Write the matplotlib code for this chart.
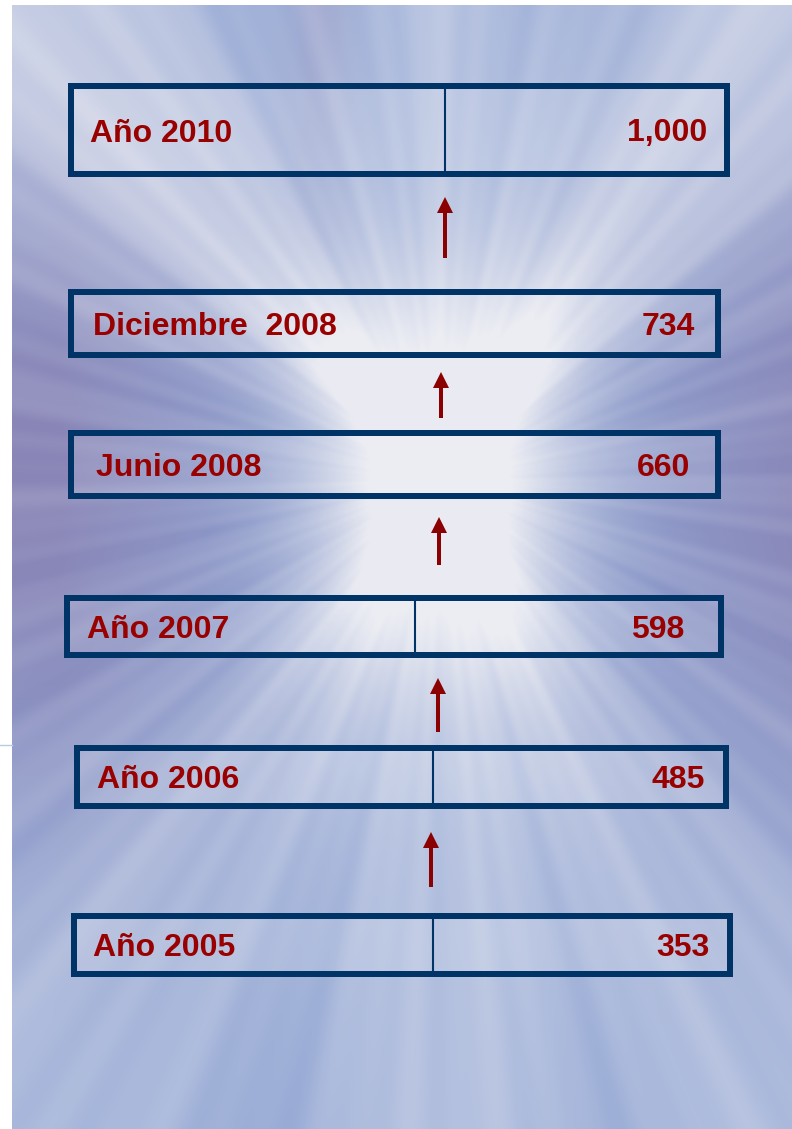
import numpy as np
import matplotlib
matplotlib.use("Agg")
import matplotlib.pyplot as plt
from matplotlib.patches import Rectangle, FancyArrow

# data, top to bottom
periods = ["Año 2010", "Diciembre  2008", "Junio 2008", "Año 2007", "Año 2006", "Año 2005"]
values = [1000, 734, 660, 598, 485, 353]

# layout in pixels (outer edges of each frame)
box_left = [68, 68, 68, 64, 74, 71]
box_right = [730, 721, 721, 724, 729, 733]
box_top = [83, 289, 430, 595, 745, 913]
box_bottom = [177, 358, 499, 658, 809, 977]
divider_x = [445, None, None, 415, 433, 433]
label_x = [90, 93, 96, 87, 97, 93]
value_right = [707, 695, 690, 684, 705, 710]

# arrows between frames: x, tail y, tip y
arrow_x = [445, 441, 439, 438, 431]
arrow_tail = [258, 418, 565, 732, 887]
arrow_tip = [197, 372, 517, 678, 832]

W, H = 792, 1129
NAVY = "#003366"
RED = "#990000"


def background(x0, x1, y0, y1):
    """Soft blue/lavender tunnel picture with a bright centre."""
    X, Y = np.meshgrid(np.arange(x0, x1) + 0.5, np.arange(y0, y1) + 0.5)
    cx, cy = 440, 480
    dx, dy = X - cx, Y - cy
    theta = np.arctan2(dy, dx)
    r = np.hypot(dx, dy)

    glow = np.exp(-(dx / 125) ** 2 - (dy / 190) ** 2)
    vband = 0.38 * np.exp(-(dx / 120) ** 2)

    rays = np.zeros_like(X)
    for ang, w in [(-2.30, 0.60), (-0.93, 0.55), (2.16, 0.30), (1.07, 0.32)]:
        d = np.angle(np.exp(1j * (theta - ang)))
        rays += w * np.exp(-(d / 0.30) ** 2)
    rays *= np.clip(r / 160, 0, 1)

    streak = (0.045 * np.sin(23 * theta) + 0.035 * np.sin(51 * theta + 0.7)
              + 0.025 * np.sin(89 * theta + 2.1)) * np.clip(r / 250, 0, 1)

    side = np.clip(np.abs(dx) / 380, 0, 1) ** 1.6 * np.exp(-(dy / 330) ** 2)
    top_purple = 0.35 * np.exp(-((X - 320) / 30) ** 2) * np.clip((300 - Y) / 300, 0, 1)
    pw = np.clip(0.8 * side + top_purple, 0, 1)[..., None]

    blue = np.array([142, 163, 210]) / 255
    purple = np.array([136, 126, 176]) / 255
    white = np.array([234, 235, 242]) / 255

    t = np.clip(0.95 * glow + rays + vband + streak + 0.05, 0, 1)[..., None]
    col = blue * (1 - pw) + purple * pw
    col = col * (1 - t) + white * t
    return np.clip(col, 0, 1)


fig = plt.figure(figsize=(W / 100, H / 100), dpi=100)
fig.patch.set_facecolor("white")
ax = fig.add_axes([0, 0, 1, 1])
ax.set_xlim(0, W)
ax.set_ylim(H, 0)
ax.axis("off")

bg_x0, bg_y0 = 12, 5
ax.imshow(background(bg_x0, W, bg_y0, H), extent=(bg_x0, W, H, bg_y0),
          origin="upper", interpolation="bilinear", zorder=0)
ax.plot([0, bg_x0], [745, 745], color="#b4cce6", lw=1, zorder=1)

lw_box = 6 * 72 / 100
for i, (label, val) in enumerate(zip(periods, values)):
    l, r_, t, b = box_left[i], box_right[i], box_top[i], box_bottom[i]
    ax.add_patch(Rectangle((l + 3, t + 3), r_ - l - 6, b - t - 6,
                           facecolor=(1, 1, 1, 0.13), edgecolor=NAVY,
                           linewidth=lw_box, joinstyle="miter", zorder=2))
    if divider_x[i] is not None:
        ax.plot([divider_x[i], divider_x[i]], [t + 5, b - 5], color=NAVY,
                lw=1.5, zorder=2)
    base = (t + b) / 2 + 11.5
    ax.text(label_x[i], base, label, ha="left", va="baseline", color=RED,
            fontsize=23, fontweight="bold", family="Liberation Sans", zorder=3)
    ax.text(value_right[i], base, f"{val:,}", ha="right", va="baseline",
            color=RED, fontsize=23, fontweight="bold",
            family="Liberation Sans", zorder=3)

for x, y0, y1 in zip(arrow_x, arrow_tail, arrow_tip):
    ax.add_patch(FancyArrow(x, y0, 0, y1 - y0, width=4, head_width=16,
                            head_length=16, length_includes_head=True,
                            color="#8b0000", linewidth=0, zorder=3))

fig.savefig("out.png", dpi=100, facecolor="white")
